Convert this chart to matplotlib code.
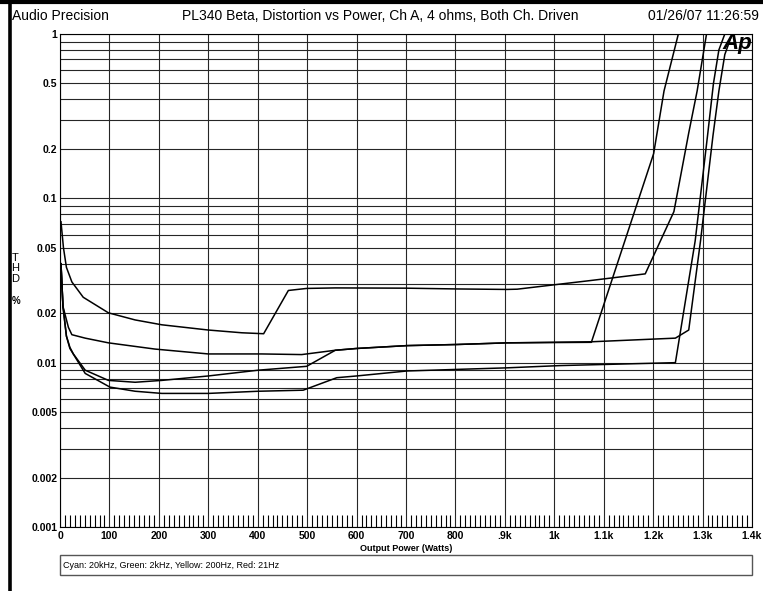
import matplotlib
matplotlib.use("Agg")
import matplotlib.pyplot as plt
from matplotlib.lines import Line2D
from matplotlib.patches import Rectangle
from matplotlib.ticker import FixedLocator, MultipleLocator, NullFormatter

plt.rcParams['font.family'] = ['Liberation Sans', 'DejaVu Sans']

watts_1 = [2, 7, 13, 24, 47, 98, 152, 206, 300, 368, 412, 462, 499, 557, 700, 800,
           904, 925, 1005, 1073, 1184, 1242, 1272, 1289, 1308]
thd_1 = [0.072, 0.050, 0.038, 0.031, 0.025, 0.0201, 0.0182, 0.0170, 0.0158, 0.0152,
         0.0150, 0.0275, 0.0283, 0.0285, 0.0284, 0.0281, 0.0279, 0.0280, 0.0299,
         0.0316, 0.0347, 0.083, 0.25, 0.45, 1.0]

watts_2 = [2, 6, 17, 24, 51, 98, 192, 300, 408, 489, 557, 600, 702, 803, 904, 1075,
           1201, 1222, 1251]
thd_2 = [0.040, 0.022, 0.0164, 0.0148, 0.0141, 0.0132, 0.0121, 0.0113, 0.0113, 0.0112,
         0.0119, 0.0122, 0.0127, 0.0129, 0.0132, 0.0133, 0.187, 0.45, 1.0]

watts_3 = [2, 6, 13, 20, 27, 51, 98, 152, 206, 300, 401, 499, 557, 600, 702, 803, 904,
           1075, 1245, 1272, 1296, 1321, 1333, 1345, 1360]
thd_3 = [0.040, 0.022, 0.0145, 0.0124, 0.0113, 0.0090, 0.0078, 0.0076, 0.0078, 0.0083,
         0.0090, 0.0095, 0.0119, 0.0122, 0.0127, 0.0129, 0.0132, 0.0134, 0.0141,
         0.0158, 0.0555, 0.24, 0.45, 0.75, 1.0]

watts_4 = [2, 6, 13, 20, 51, 101, 152, 206, 300, 401, 492, 560, 600, 702, 803, 904,
           1012, 1245, 1285, 1310, 1322, 1333, 1345]
thd_4 = [0.040, 0.022, 0.0145, 0.0122, 0.0086, 0.0071, 0.0067, 0.0065, 0.0065, 0.0067,
         0.0068, 0.0081, 0.0083, 0.0089, 0.0091, 0.0093, 0.0096, 0.0100, 0.055, 0.24,
         0.5, 0.8, 1.0]

ytick_vals = [0.001, 0.002, 0.005, 0.01, 0.02, 0.05, 0.1, 0.2, 0.5, 1]
ytick_labels = ['0.001', '0.002', '0.005', '0.01', '0.02', '0.05', '0.1', '0.2', '0.5', '1']
xtick_vals = [0, 100, 200, 300, 400, 500, 600, 700, 800, 900, 1000, 1100, 1200, 1300, 1400]
xtick_labels = ['0', '100', '200', '300', '400', '500', '600', '700', '800',
                '.9k', '1k', '1.1k', '1.2k', '1.3k', '1.4k']

W, H = 763, 591
fig = plt.figure(figsize=(W / 100, H / 100), dpi=100)
ax = fig.add_axes([60 / W, 1 - 527 / H, 692 / W, 493 / H])

ax.set_yscale('log')
ax.set_xlim(0, 1400)
ax.set_ylim(0.001, 1)

for xs, ys in [(watts_1, thd_1), (watts_2, thd_2), (watts_3, thd_3), (watts_4, thd_4)]:
    ax.plot(xs, ys, color='black', lw=1.1, zorder=3)

# y axis: labelled decades + full 2..9 grid
ax.yaxis.set_major_locator(FixedLocator(ytick_vals))
ax.set_yticklabels(ytick_labels, fontsize=7.5, fontweight='bold')
minor_y = [k * 10.0 ** e for e in range(-3, 0) for k in range(2, 10)]
ax.yaxis.set_minor_locator(FixedLocator(minor_y))
ax.yaxis.set_minor_formatter(NullFormatter())
ax.tick_params(axis='y', which='both', length=0, pad=2)

ax.set_xticks(xtick_vals)
ax.set_xticklabels(xtick_labels, fontsize=7.5, fontweight='bold')
ax.xaxis.set_minor_locator(MultipleLocator(10))
ax.tick_params(axis='x', which='major', length=0, pad=3)
ax.tick_params(axis='x', which='minor', direction='in', length=9, width=0.8,
               color='black', bottom=True, top=False)

ax.grid(which='both', axis='y', color='#262626', lw=0.8)
ax.grid(which='major', axis='x', color='#262626', lw=0.8)
for sp in ax.spines.values():
    sp.set_color('black')
    sp.set_linewidth(0.8)

ax.set_xlabel('Output Power (Watts)', fontsize=6.5, fontweight='bold', labelpad=2)

# y label stacked letters
fig.text(15 / W, 1 - 258 / H, 'T', fontsize=8, ha='center', va='center')
fig.text(15 / W, 1 - 268 / H, 'H', fontsize=8, ha='center', va='center')
fig.text(15 / W, 1 - 279 / H, 'D', fontsize=8, ha='center', va='center')
fig.text(16 / W, 1 - 301 / H, '%', fontsize=7, fontweight='bold', ha='center', va='center')

# header
fig.text(12 / W, 1 - 16 / H, 'Audio Precision', fontsize=10, va='center')
fig.text(380 / W, 1 - 16 / H, 'PL340 Beta, Distortion vs Power, Ch A, 4 ohms, Both Ch. Driven',
         fontsize=10, ha='center', va='center')
fig.text(648 / W, 1 - 16 / H, '01/26/07 11:26:59', fontsize=10, va='center')

# border bars
fig.add_artist(Line2D([0, 1], [1 - 2 / H, 1 - 2 / H], color='black', lw=3))
fig.add_artist(Line2D([10 / W, 10 / W], [0, 1], color='black', lw=2.6))

# AP logo
fig.text(737 / W, 1 - 44 / H, 'Ap', fontsize=16, fontweight='bold', fontstyle='italic',
         ha='center', va='center', zorder=5)

# legend box
fig.add_artist(Rectangle((60 / W, 1 - 575 / H), 692 / W, 20 / H, fill=False,
                         edgecolor='#555555', lw=1, transform=fig.transFigure))
fig.text(63 / W, 1 - 565 / H, 'Cyan: 20kHz, Green: 2kHz, Yellow: 200Hz, Red: 21Hz',
         fontsize=6.5, va='center')

fig.savefig('out.png', dpi=100)
